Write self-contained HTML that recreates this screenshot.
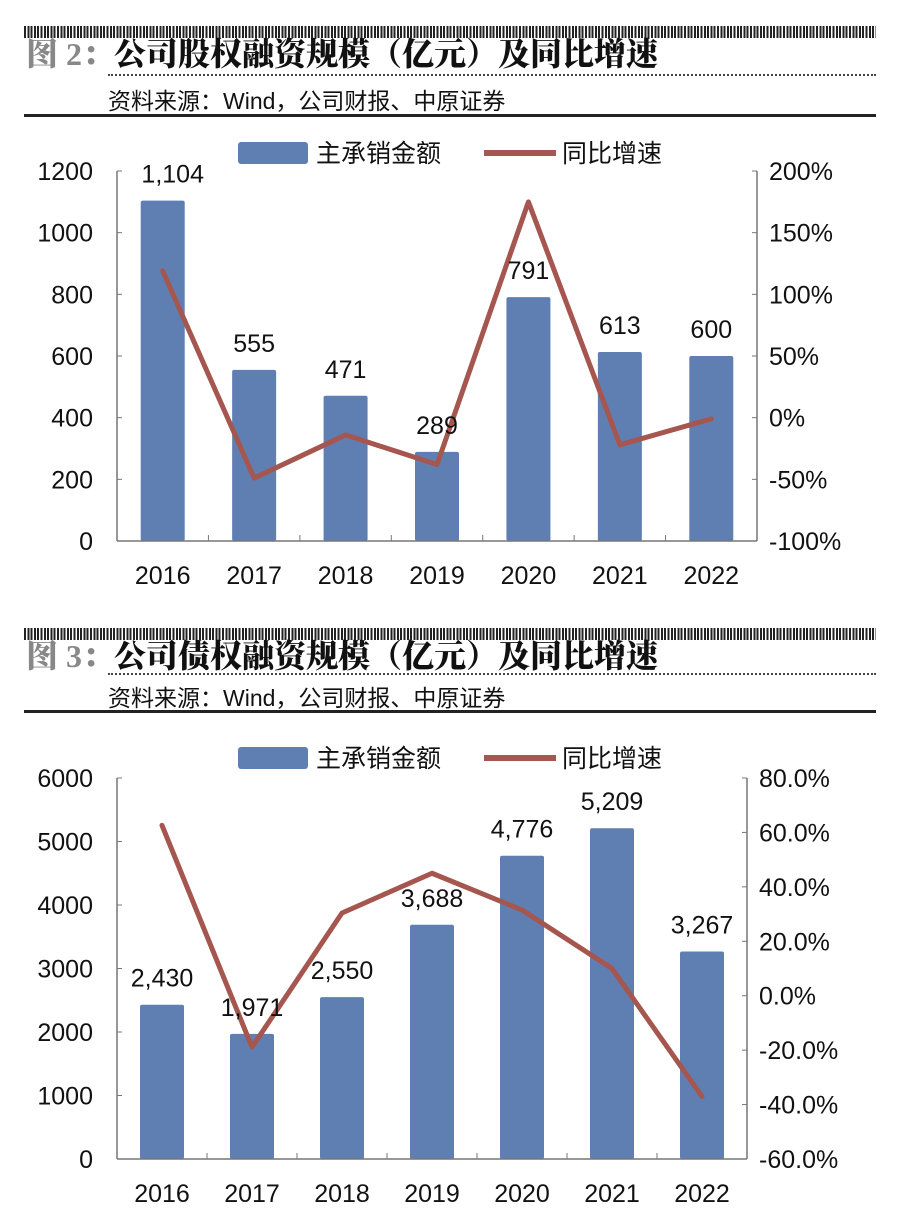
<!DOCTYPE html>
<html><head><meta charset="utf-8">
<style>
body{margin:0;background:#fff;width:900px;height:1223px;overflow:hidden;font-family:"Liberation Sans","Noto Sans CJK SC",sans-serif}
.band{position:absolute;left:24px;width:852px;height:12px;background:repeating-linear-gradient(90deg,#222 0 2px,#fff 2px 3.3px)}
.title{position:absolute;left:26px;font-family:"Liberation Serif","Noto Serif CJK SC",serif;font-weight:900;font-size:32px;color:#111;white-space:nowrap}
.title b{color:#888;font-weight:900}
.dot{position:absolute;left:108px;width:768px;border-top:2px dotted #444}
.src{position:absolute;left:108px;font-size:23px;color:#111;white-space:nowrap}
.solid{position:absolute;left:24px;width:852px;height:3px;background:#222}
svg{position:absolute;left:0}
svg text{font-size:25px}
</style></head><body>
<div class="band" style="top:26px"></div>
<div class="title" style="top:29px"><b>图 2：</b>公司股权融资规模（亿元）及同比增速</div>
<div class="dot" style="top:74px"></div>
<div class="src" style="top:82px">资料来源：Wind，公司财报、中原证券</div>
<div class="solid" style="top:114px"></div>

<div class="band" style="top:628px"></div>
<div class="title" style="top:631px"><b>图 3：</b>公司债权融资规模（亿元）及同比增速</div>
<div class="dot" style="top:673px"></div>
<div class="src" style="top:679px">资料来源：Wind，公司财报、中原证券</div>
<div class="solid" style="top:710px"></div>

<svg id="c1" width="900" height="600" style="top:0"></svg>
<svg id="c2" width="900" height="1223" style="top:0"></svg>
<script>
const categories=["2016","2017","2018","2019","2020","2021","2022"];
const equityAmount=[1104,555,471,289,791,613,600];
const equityGrowth=[119,-49,-14,-38,175,-22,-1];
const equityLabels=["1,104","555","471","289","791","613","600"];
const equityLeftTicks=[0,200,400,600,800,1000,1200];
const equityRightTicks=[-100,-50,0,50,100,150,200];
const debtAmount=[2430,1971,2550,3688,4776,5209,3267];
const debtGrowth=[62.6,-18.9,30.4,45,31.5,10,-37];
const debtLabels=["2,430","1,971","2,550","3,688","4,776","5,209","3,267"];
const debtLeftTicks=[0,1000,2000,3000,4000,5000,6000];
const debtRightTicks=[-60,-40,-20,0,20,40,60,80];
const NS="http://www.w3.org/2000/svg";
function mk(svg,tag,attrs,name,text){const e=document.createElementNS(NS,tag);for(const k in attrs)e.setAttribute(k,attrs[k]);


if(text!==undefined)e.textContent=text;svg.appendChild(e);return e;}
function draw(svg,cfg){
 const {x0,x1,yTop,yBot,lmax,rmin,rmax,amt,gr,labs,lt,rt,rfmt,legY,xlabY,labOff}=cfg;
 const step=(x1-x0)/categories.length;
 const xc=i=>x0+step*(i+0.5);
 const yl=v=>yBot-(v/lmax)*(yBot-yTop);
 const yr=v=>yBot-(v-rmin)/(rmax-rmin)*(yBot-yTop);
 mk(svg,'rect',{x:238,y:legY-11,width:70,height:22,rx:3,fill:'#5f7fb3'},'legend-bar-swatch');
 mk(svg,'text',{x:316,y:legY+9,fill:'#111'},'legend-bar-label','主承销金额');
 mk(svg,'line',{x1:484,y1:legY,x2:556,y2:legY,stroke:'#a5564f','stroke-width':6},'legend-line-swatch');
 mk(svg,'text',{x:562,y:legY+9,fill:'#111'},'legend-line-label','同比增速');
 mk(svg,'line',{x1:x0,y1:yTop,x2:x0,y2:yBot,stroke:'#777','stroke-width':1.5},'left-axis');
 mk(svg,'line',{x1:x1,y1:yTop,x2:x1,y2:yBot,stroke:'#777','stroke-width':1.5},'right-axis');
 lt.forEach(v=>{mk(svg,'line',{x1:x0,y1:yl(v),x2:x0+5,y2:yl(v),stroke:'#777'},'left-tick');
  mk(svg,'text',{x:x0-24,y:yl(v)+9,fill:'#111','text-anchor':'end'},'left-tick-label',String(v));});
 rt.forEach(v=>{mk(svg,'line',{x1:x1-5,y1:yr(v),x2:x1,y2:yr(v),stroke:'#777'},'right-tick');
  mk(svg,'text',{x:x1+12,y:yr(v)+9,fill:'#111'},'right-tick-label',rfmt(v));});
 categories.forEach((c,i)=>{
  mk(svg,'rect',{x:xc(i)-22,y:yl(amt[i]),width:44,height:yBot-yl(amt[i]),fill:'#5f7fb3',rx:2},'bar-'+c);
  if(i>0)mk(svg,'line',{x1:x0+step*i,y1:yBot,x2:x0+step*i,y2:yBot-6,stroke:'#777'},'x-tick');
  mk(svg,'text',{x:xc(i),y:xlabY,fill:'#111','text-anchor':'middle'},'x-label-'+c,c);
 });
 mk(svg,'line',{x1:x0,y1:yBot,x2:x1,y2:yBot,stroke:'#777','stroke-width':1.5},'x-axis');
 let d='';gr.forEach((v,i)=>{d+=(i?'L':'M')+xc(i)+' '+yr(v);});
 mk(svg,'path',{d:d,fill:'none',stroke:'#a5564f','stroke-width':5,'stroke-linejoin':'round','stroke-linecap':'round'},'growth-line');
 labs.forEach((t,i)=>{mk(svg,'text',{x:xc(i)+(i==0&&cfg.first?10:0),y:yl(amt[i])-labOff,fill:'#111','text-anchor':'middle'},'value-label-'+categories[i],t);});
}
draw(document.getElementById('c1'),{x0:117,x1:757,yTop:171,yBot:541,lmax:1200,rmin:-100,rmax:200,amt:equityAmount,gr:equityGrowth,labs:equityLabels,lt:equityLeftTicks,rt:equityRightTicks,rfmt:v=>v+'%',legY:153,xlabY:584,labOff:18,first:true});
draw(document.getElementById('c2'),{x0:117,x1:747,yTop:778,yBot:1159,lmax:6000,rmin:-60,rmax:80,amt:debtAmount,gr:debtGrowth,labs:debtLabels,lt:debtLeftTicks,rt:debtRightTicks,rfmt:v=>v.toFixed(1)+'%',legY:758,xlabY:1202,labOff:18});
</script>
</body></html>
